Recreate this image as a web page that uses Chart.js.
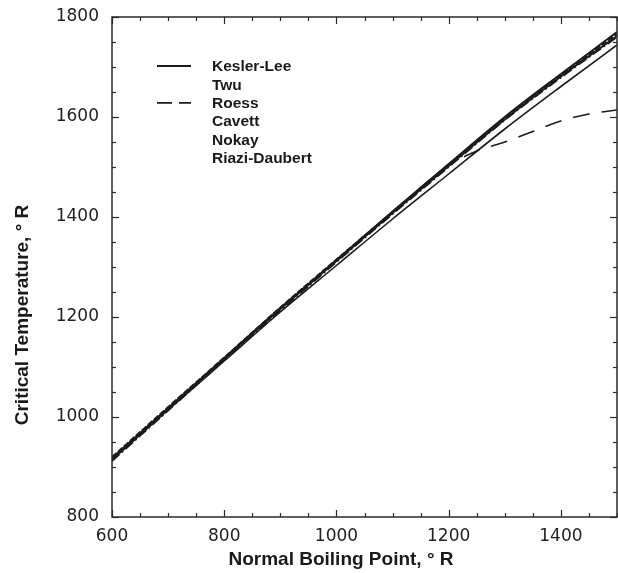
<!DOCTYPE html>
<html>
<head>
<meta charset="utf-8">
<script src="https://cdn.jsdelivr.net/npm/chart.js@4/dist/chart.umd.min.js"></script>
<style>
  html, body { margin: 0; padding: 0; background: #ffffff; }
  canvas { display: block; }
</style>
</head>
<body>
<canvas id="c" width="618" height="573"></canvas>
<script>
// ---- data ----
const boilingPoint = [600, 700, 800, 900, 1000, 1100, 1200, 1300, 1400, 1500];
const keslerLee    = [914, 1014, 1112, 1210, 1303, 1396, 1486, 1576, 1661, 1744];
const twu          = [916, 1016, 1116, 1216, 1312, 1408, 1502, 1595, 1681, 1762];
const cavett       = [920, 1020, 1119, 1219, 1315, 1410, 1505, 1598, 1684, 1766];
const nokay        = [912, 1013, 1114, 1213, 1310, 1406, 1500, 1594, 1679, 1760];
const riaziDaubert = [918, 1018, 1118, 1218, 1314, 1411, 1506, 1600, 1686, 1770];
const roessBoilingPoint = [600, 700, 800, 900, 1000, 1100, 1200, 1250, 1300, 1350, 1400, 1450, 1500];
const roess        = [917, 1017, 1117, 1216, 1313, 1409, 1503, 1532, 1550, 1571, 1592, 1606, 1614];

const seriesNames = ['Kesler-Lee', 'Twu', 'Roess', 'Cavett', 'Nokay', 'Riazi-Daubert'];
const xTickValues = [600, 800, 1000, 1200, 1400];
const yTickValues = [800, 1000, 1200, 1400, 1600, 1800];
const xTitle = 'Normal Boiling Point, \u00B0 R';
const yTitle = 'Critical Temperature, \u00B0 R';

function pts(xs, ys) { return xs.map((v, i) => ({ x: v, y: ys[i] })); }

const INK = '#1c1c1c';

const datasets = [
  { label: seriesNames[0], data: pts(boilingPoint, keslerLee), borderWidth: 1.6, borderDash: [], legendSample: true },
  { label: seriesNames[1], data: pts(boilingPoint, twu), borderWidth: 2, borderDash: [] },
  { label: seriesNames[2], data: pts(roessBoilingPoint, roess), borderWidth: 1.6, borderDash: [17, 12], legendSample: true, legendDash: [15, 7] },
  { label: seriesNames[3], data: pts(boilingPoint, cavett), borderWidth: 1.9, borderDash: [6, 2] },
  { label: seriesNames[4], data: pts(boilingPoint, nokay), borderWidth: 1.9, borderDash: [10, 3, 2, 3] },
  { label: seriesNames[5], data: pts(boilingPoint, riaziDaubert), borderWidth: 2, borderDash: [] }
].map(d => Object.assign({
  borderColor: INK,
  backgroundColor: INK,
  pointRadius: 0,
  fill: false,
  cubicInterpolationMode: 'monotone'
}, d));

// frame, inward ticks, legend and axis titles
const decorPlugin = {
  id: 'decor',
  afterDraw(chart) {
    const { ctx, chartArea: a, scales: { x, y } } = chart;
    ctx.save();
    ctx.strokeStyle = '#2a2a2a';
    ctx.lineWidth = 1.5;
    ctx.strokeRect(a.left, a.top, a.right - a.left, a.bottom - a.top);

    ctx.lineWidth = 1.2;
    const seg = (x1, y1, x2, y2) => { ctx.beginPath(); ctx.moveTo(x1, y1); ctx.lineTo(x2, y2); ctx.stroke(); };
    for (let v = x.min; v <= x.max; v += 50) {
      const px = Math.round(x.getPixelForValue(v)) + 0.5;
      const len = (v % 200 === 0) ? 7 : 4;
      seg(px, a.bottom, px, a.bottom - len);
      seg(px, a.top, px, a.top + len);
    }
    for (let v = y.min; v <= y.max; v += 50) {
      const py = Math.round(y.getPixelForValue(v)) + 0.5;
      const len = (v % 200 === 0) ? 7 : 4;
      seg(a.left, py, a.left + len, py);
      seg(a.right, py, a.right - len, py);
    }

    // legend
    ctx.font = 'bold 15.5px "Liberation Sans", Arial, sans-serif';
    ctx.fillStyle = '#1a1a1a';
    ctx.textBaseline = 'middle';
    ctx.textAlign = 'left';
    const lx0 = 157, lx1 = 191, tx = 212, ly0 = 66, dy = 18.4;
    chart.data.datasets.forEach((ds, i) => {
      const yy = ly0 + i * dy;
      if (ds.legendSample) {
        ctx.save();
        ctx.strokeStyle = INK;
        ctx.lineWidth = 1.8;
        ctx.setLineDash(ds.legendDash || []);
        seg(lx0, yy, lx1, yy);
        ctx.restore();
      }
      ctx.fillText(ds.label, tx, yy + 1);
    });

    // axis titles
    ctx.font = 'bold 19px "Liberation Sans", Arial, sans-serif';
    ctx.textAlign = 'center';
    ctx.textBaseline = 'middle';
    ctx.fillText(xTitle, 341, 560);
    ctx.save();
    ctx.translate(23, 315);
    ctx.rotate(-Math.PI / 2);
    ctx.fillText(yTitle, 0, 0);
    ctx.restore();
    ctx.restore();
  }
};

new Chart(document.getElementById('c'), {
  type: 'line',
  data: { datasets },
  options: {
    responsive: false,
    devicePixelRatio: 1,
    animation: false,
    layout: { padding: { left: 0, right: 1, top: 17, bottom: 0 } },
    plugins: { legend: { display: false }, tooltip: { enabled: false } },
    scales: {
      x: {
        type: 'linear',
        min: 600, max: 1500,
        afterFit(s) { s.height = 56; s.paddingLeft = 0; s.paddingRight = 0; },
        afterBuildTicks(s) { s.ticks = xTickValues.map(v => ({ value: v })); },
        border: { display: false },
        grid: { display: false, drawTicks: false },
        ticks: {
          padding: 9,
          color: '#222',
          font: { family: '"DejaVu Sans", sans-serif', size: 17 },
          callback: v => String(v),
          maxRotation: 0, autoSkip: false
        },
        title: { display: false }
      },
      y: {
        type: 'linear',
        min: 800, max: 1800,
        afterFit(s) { s.width = 112; s.paddingTop = 0; s.paddingBottom = 0; },
        afterBuildTicks(s) { s.ticks = yTickValues.map(v => ({ value: v })); },
        border: { display: false },
        grid: { display: false, drawTicks: false },
        ticks: {
          padding: 13,
          color: '#222',
          font: { family: '"DejaVu Sans", sans-serif', size: 17 },
          callback: v => String(v),
          autoSkip: false
        },
        title: { display: false }
      }
    }
  },
  plugins: [decorPlugin]
});
</script>
</body>
</html>
